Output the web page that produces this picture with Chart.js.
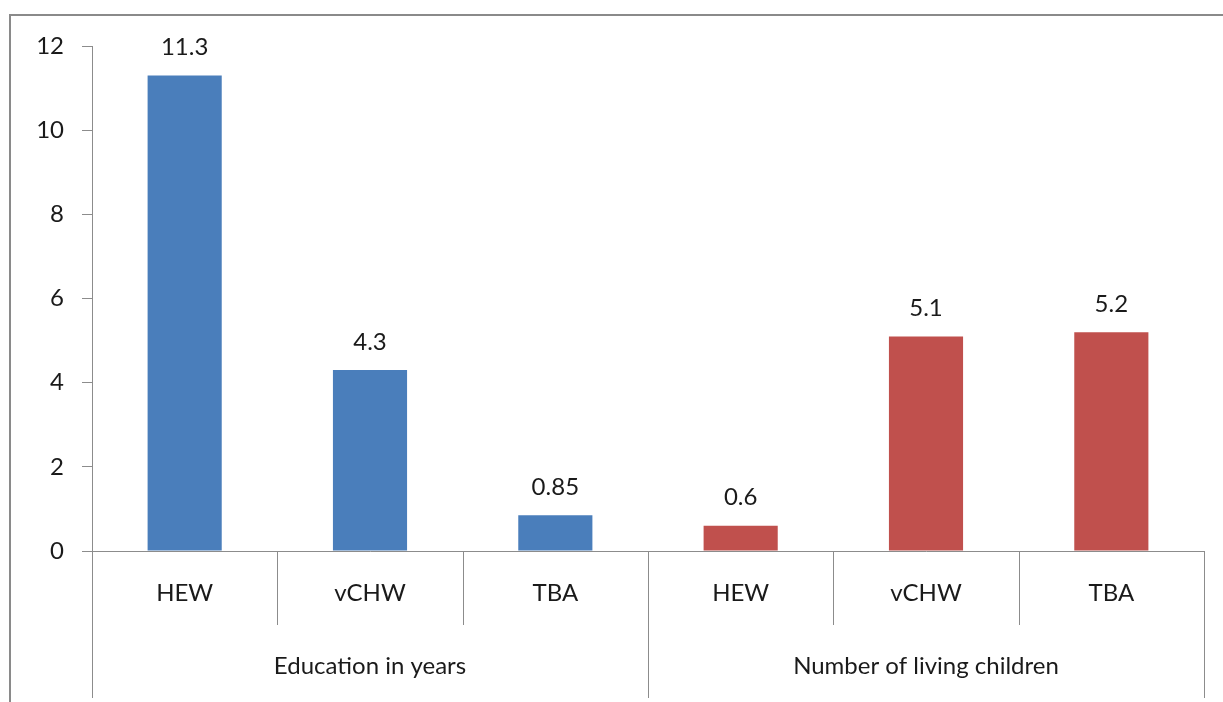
<!DOCTYPE html>
<html>
<head>
<meta charset="utf-8">
<script src="https://cdn.jsdelivr.net/npm/chart.js@4.4.0/dist/chart.umd.min.js"></script>
<style>
  html, body { margin: 0; padding: 0; background: #fff; }
  #chart { display: block; }
</style>
</head>
<body>
<canvas id="chart" width="1223" height="702"></canvas>
<script>
const categories = ['HEW', 'vCHW', 'TBA', 'HEW', 'vCHW', 'TBA'];
const groups = ['Education in years', 'Number of living children'];
const groupSize = 3;
const educationYears = [11.3, 4.3, 0.85, null, null, null];
const livingChildren = [null, null, null, 0.6, 5.1, 5.2];
const yTicks = [0, 2, 4, 6, 8, 10, 12];

const FONT = 'Lato, "DejaVu Sans", sans-serif';
const LINE = '#8c8c8c';

// value above each bar
const barLabels = {
  id: 'barLabels',
  afterDatasetsDraw(chart) {
    const ctx = chart.ctx;
    ctx.save();
    ctx.font = '24px ' + FONT;
    ctx.fillStyle = '#1a1a1a';
    ctx.textAlign = 'center';
    ctx.textBaseline = 'bottom';
    chart.data.datasets.forEach((ds, di) => {
      chart.getDatasetMeta(di).data.forEach((bar, i) => {
        const v = ds.data[i];
        if (v === null) return;
        ctx.fillText(String(v), bar.x, bar.y - 16);
      });
    });
    ctx.restore();
  }
};

// category separators, group labels and the outer frame
const axisFrame = {
  id: 'axisFrame',
  afterDraw(chart) {
    const ctx = chart.ctx;
    const area = chart.chartArea;
    const step = (area.right - area.left) / categories.length;
    ctx.save();
    ctx.strokeStyle = LINE;
    ctx.lineWidth = 1;
    for (let i = 0; i <= categories.length; i++) {
      const px = Math.round(area.left + i * step) + 0.5;
      const long = i % groupSize === 0;
      ctx.beginPath();
      ctx.moveTo(px, area.bottom);
      ctx.lineTo(px, long ? 698 : area.bottom + 74);
      ctx.stroke();
    }
    ctx.font = '24px ' + FONT;
    ctx.fillStyle = '#1a1a1a';
    ctx.textAlign = 'center';
    ctx.textBaseline = 'middle';
    groups.forEach((g, gi) => {
      const cx = area.left + (gi * groupSize + groupSize / 2) * step;
      ctx.fillText(g, cx, 666);
    });
    ctx.strokeStyle = '#8a8a8a';
    ctx.lineWidth = 2;
    ctx.beginPath();
    ctx.moveTo(10, 702);
    ctx.lineTo(10, 15);
    ctx.lineTo(1223, 15);
    ctx.stroke();
    ctx.restore();
  }
};

new Chart(document.getElementById('chart'), {
  type: 'bar',
  data: {
    labels: categories,
    datasets: [
      { label: groups[0], data: educationYears, backgroundColor: '#4a7ebb' },
      { label: groups[1], data: livingChildren, backgroundColor: '#c0504d' }
    ]
  },
  options: {
    responsive: false,
    animation: false,
    layout: { padding: { top: 46, right: 19, left: 0, bottom: 0 } },
    datasets: { bar: { grouped: false, categoryPercentage: 1, barPercentage: 0.4 } },
    plugins: { legend: { display: false }, tooltip: { enabled: false } },
    scales: {
      x: {
        afterFit(s) { s.height = 151; },
        grid: { display: false },
        border: { color: LINE },
        ticks: { font: { family: FONT, size: 24 }, color: '#1a1a1a', padding: 20, maxRotation: 0 }
      },
      y: {
        min: 0,
        max: 12,
        afterFit(s) { s.width = 92; },
        afterBuildTicks(s) { s.ticks = yTicks.map(v => ({ value: v })); },
        grid: { drawOnChartArea: false, tickLength: 10, color: LINE },
        border: { color: LINE },
        ticks: { font: { family: FONT, size: 24 }, color: '#1a1a1a', padding: 18 }
      }
    }
  },
  plugins: [barLabels, axisFrame]
});
</script>
</body>
</html>
